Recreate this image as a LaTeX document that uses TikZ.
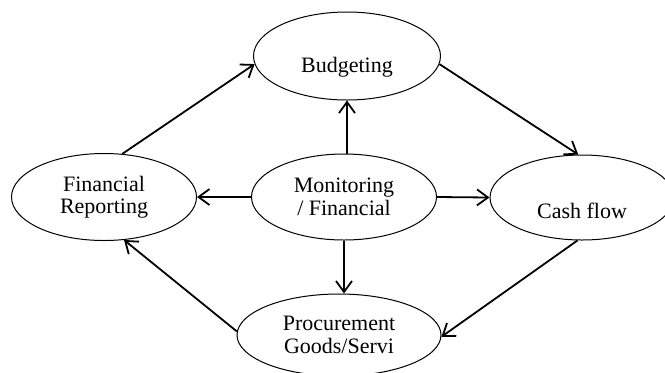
\documentclass[tikz,border=0pt]{standalone}
\usepackage{fontspec}
\setmainfont{Liberation Serif}
\usetikzlibrary{shapes.geometric,arrows.meta,calc}
\begin{document}
\begin{tikzpicture}[x=0.5pt,y=-0.5pt,
  stage/.style={draw, ellipse, line width=0.5pt, inner sep=0pt, align=center,
    font=\fontsize{11pt}{11.25pt}\selectfont},
  lbl/.style={inner sep=0pt, align=center, font=\fontsize{11pt}{11.25pt}\selectfont},
  flow/.style={draw, line width=0.9pt, -{Straight Barb[length=5.5pt,width=8pt,line width=0.9pt]}}]
\useasboundingbox (0,0) rectangle (665,372);
\begin{scope}
\clip (0,0) rectangle (665,372);
% the five stages of the cycle
\node[stage, minimum width=93.5pt, minimum height=44pt] (bud) at (347,56) {};
\node[lbl] (budtxt) at ($(bud.center)+(0,11)$) {Budgeting};
\node[stage, minimum width=92.5pt, minimum height=43.5pt] (fin) at (104,197) {Financial\\Reporting};
\node[stage, minimum width=92.5pt, minimum height=43pt] (mon) at (344,197) {Monitoring\\/ Financial};
\node[stage, minimum width=92pt, minimum height=42.5pt] (cash) at (582,197.5) {};
\node[lbl] (cashtxt) at ($(cash.center)+(0,13)$) {Cash flow};
\node[stage, minimum width=102pt, minimum height=41pt] (proc) at (339,335) {Procurement\\Goods/Servi};

% from the centre outwards
\draw[flow] (bud.south |- mon.north) -- (bud.south);
\draw[flow] (mon.west) -- (fin.east);
\draw[flow] (mon.east) -- (cash.west);
\draw[flow] (mon.south) -- (mon.south |- proc.north);

% around the cycle
\draw[flow] (fin.67) -- (bud.185);
\draw[flow] (bud.355) -- (cash.95);
\draw[flow] (cash.264) -- (proc.359);
\draw[flow] (proc.178) -- (fin.295);
\end{scope}
\end{tikzpicture}
\end{document}
